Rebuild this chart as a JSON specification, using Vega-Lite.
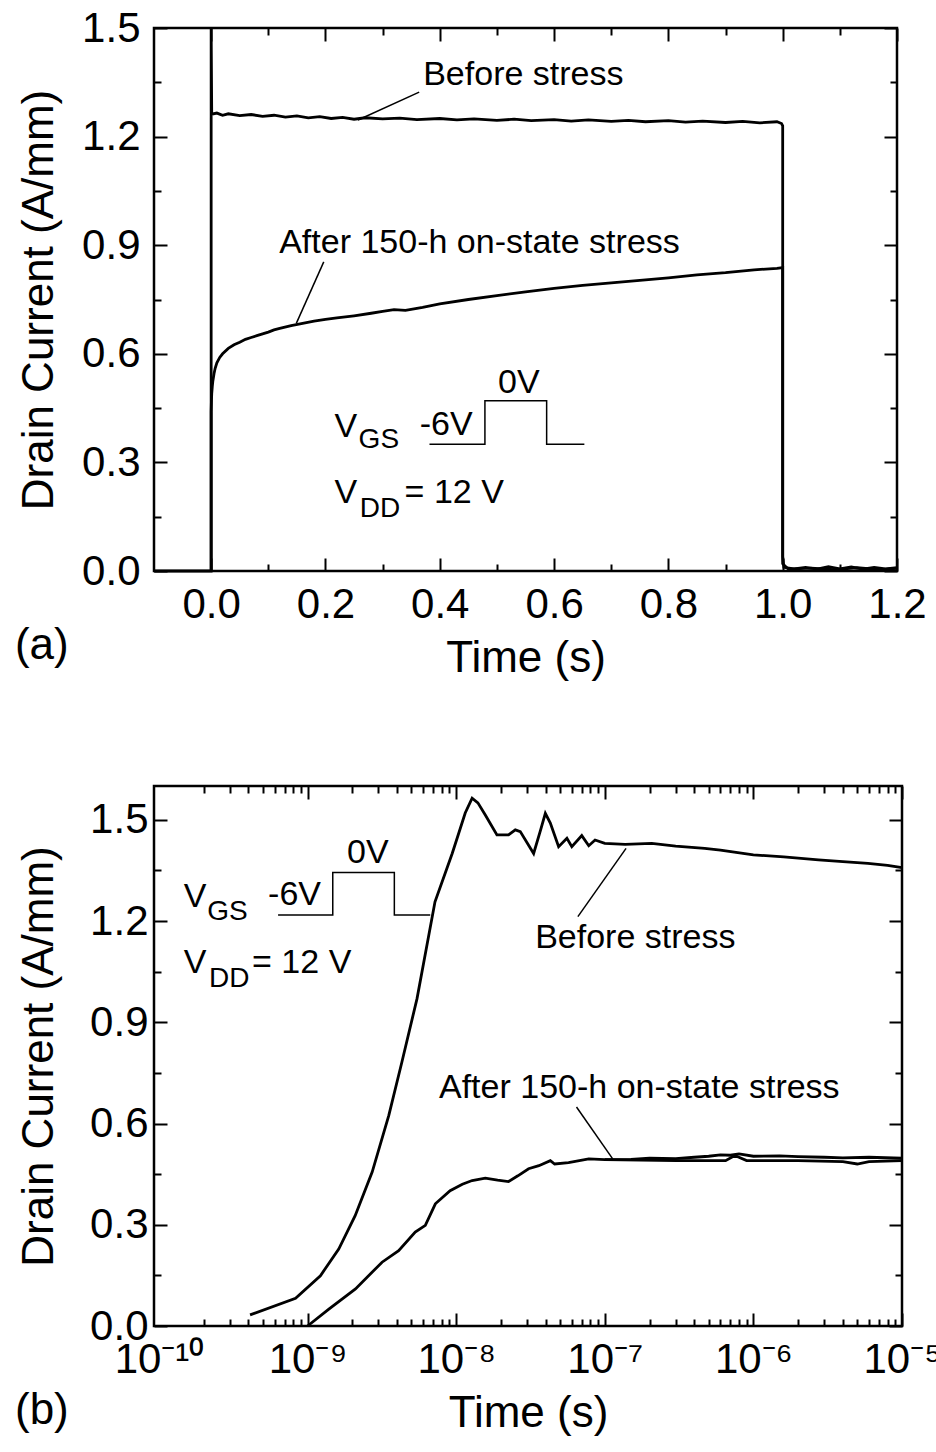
{
  "$schema": "https://vega.github.io/schema/vega-lite/v6.json",
  "background": "white",
  "padding": {"left": 13, "top": 5, "right": 0, "bottom": 0},
  "config": {
    "view": {"stroke": "black", "strokeWidth": 2.5},
    "axis": {"grid": false, "domain": false, "ticks": true, "zindex": 2, "tickColor": "black", "tickWidth": 2, "tickOpacity": 1, "labelColor": "black", "titleColor": "black", "labelFont": "Liberation Sans", "titleFont": "Liberation Sans", "labelFontSize": 42, "titleFontSize": 44, "titleFontWeight": "normal", "labelFlush": false, "labelBound": false}
  },
  "datasets": {
    "aTraces": [
      {"s": "before", "t": -0.1, "i": 0}, {"s": "before", "t": 0, "i": 0}, {"s": "before", "t": 0, "i": 1.5},
      {"s": "before", "t": 0.001, "i": 1.262}, {"s": "before", "t": 0.01, "i": 1.265}, {"s": "before", "t": 0.02, "i": 1.259},
      {"s": "before", "t": 0.03, "i": 1.263}, {"s": "before", "t": 0.05, "i": 1.258}, {"s": "before", "t": 0.07, "i": 1.261},
      {"s": "before", "t": 0.09, "i": 1.256}, {"s": "before", "t": 0.11, "i": 1.259}, {"s": "before", "t": 0.13, "i": 1.254},
      {"s": "before", "t": 0.15, "i": 1.257}, {"s": "before", "t": 0.17, "i": 1.252}, {"s": "before", "t": 0.19, "i": 1.255},
      {"s": "before", "t": 0.21, "i": 1.25}, {"s": "before", "t": 0.23, "i": 1.253}, {"s": "before", "t": 0.25, "i": 1.248},
      {"s": "before", "t": 0.27, "i": 1.252}, {"s": "before", "t": 0.3, "i": 1.249}, {"s": "before", "t": 0.33, "i": 1.251},
      {"s": "before", "t": 0.36, "i": 1.247}, {"s": "before", "t": 0.4, "i": 1.25}, {"s": "before", "t": 0.43, "i": 1.246},
      {"s": "before", "t": 0.46, "i": 1.249}, {"s": "before", "t": 0.5, "i": 1.245}, {"s": "before", "t": 0.53, "i": 1.248},
      {"s": "before", "t": 0.56, "i": 1.244}, {"s": "before", "t": 0.6, "i": 1.247}, {"s": "before", "t": 0.63, "i": 1.243},
      {"s": "before", "t": 0.66, "i": 1.246}, {"s": "before", "t": 0.7, "i": 1.242}, {"s": "before", "t": 0.73, "i": 1.245},
      {"s": "before", "t": 0.76, "i": 1.241}, {"s": "before", "t": 0.8, "i": 1.244}, {"s": "before", "t": 0.83, "i": 1.24},
      {"s": "before", "t": 0.86, "i": 1.243}, {"s": "before", "t": 0.9, "i": 1.239}, {"s": "before", "t": 0.93, "i": 1.242},
      {"s": "before", "t": 0.96, "i": 1.238}, {"s": "before", "t": 0.99, "i": 1.241}, {"s": "before", "t": 0.998, "i": 1.236},
      {"s": "before", "t": 1.0, "i": 1.23}, {"s": "before", "t": 1.0, "i": 0.04}, {"s": "before", "t": 1.002, "i": 0.01},
      {"s": "before", "t": 1.02, "i": 0.006}, {"s": "before", "t": 1.04, "i": 0.01}, {"s": "before", "t": 1.06, "i": 0.005},
      {"s": "before", "t": 1.08, "i": 0.012}, {"s": "before", "t": 1.1, "i": 0.006}, {"s": "before", "t": 1.12, "i": 0.011},
      {"s": "before", "t": 1.14, "i": 0.005}, {"s": "before", "t": 1.16, "i": 0.01}, {"s": "before", "t": 1.18, "i": 0.006},
      {"s": "before", "t": 1.2, "i": 0.009},
      {"s": "after", "t": 0, "i": 0}, {"s": "after", "t": 0, "i": 0.44}, {"s": "after", "t": 0.0005, "i": 0.47},
      {"s": "after", "t": 0.001, "i": 0.49}, {"s": "after", "t": 0.002, "i": 0.51}, {"s": "after", "t": 0.003, "i": 0.525},
      {"s": "after", "t": 0.005, "i": 0.545}, {"s": "after", "t": 0.007, "i": 0.56}, {"s": "after", "t": 0.01, "i": 0.575},
      {"s": "after", "t": 0.015, "i": 0.59}, {"s": "after", "t": 0.02, "i": 0.6}, {"s": "after", "t": 0.03, "i": 0.615},
      {"s": "after", "t": 0.04, "i": 0.625}, {"s": "after", "t": 0.05, "i": 0.632}, {"s": "after", "t": 0.06, "i": 0.64},
      {"s": "after", "t": 0.07, "i": 0.645}, {"s": "after", "t": 0.08, "i": 0.65}, {"s": "after", "t": 0.09, "i": 0.655},
      {"s": "after", "t": 0.1, "i": 0.66}, {"s": "after", "t": 0.11, "i": 0.666}, {"s": "after", "t": 0.12, "i": 0.67},
      {"s": "after", "t": 0.14, "i": 0.678}, {"s": "after", "t": 0.16, "i": 0.684}, {"s": "after", "t": 0.18, "i": 0.69},
      {"s": "after", "t": 0.2, "i": 0.695}, {"s": "after", "t": 0.22, "i": 0.699}, {"s": "after", "t": 0.25, "i": 0.705},
      {"s": "after", "t": 0.28, "i": 0.712}, {"s": "after", "t": 0.3, "i": 0.717}, {"s": "after", "t": 0.32, "i": 0.722},
      {"s": "after", "t": 0.34, "i": 0.72}, {"s": "after", "t": 0.37, "i": 0.728}, {"s": "after", "t": 0.4, "i": 0.738},
      {"s": "after", "t": 0.45, "i": 0.75}, {"s": "after", "t": 0.5, "i": 0.761}, {"s": "after", "t": 0.55, "i": 0.771},
      {"s": "after", "t": 0.6, "i": 0.781}, {"s": "after", "t": 0.65, "i": 0.789}, {"s": "after", "t": 0.7, "i": 0.796},
      {"s": "after", "t": 0.75, "i": 0.803}, {"s": "after", "t": 0.8, "i": 0.81}, {"s": "after", "t": 0.85, "i": 0.818},
      {"s": "after", "t": 0.9, "i": 0.824}, {"s": "after", "t": 0.95, "i": 0.832}, {"s": "after", "t": 0.99, "i": 0.836},
      {"s": "after", "t": 1.0, "i": 0.838}, {"s": "after", "t": 1.0, "i": 0.02}, {"s": "after", "t": 1.01, "i": 0.005},
      {"s": "after", "t": 1.05, "i": 0.008}, {"s": "after", "t": 1.09, "i": 0.004}, {"s": "after", "t": 1.13, "i": 0.009},
      {"s": "after", "t": 1.17, "i": 0.004}, {"s": "after", "t": 1.2, "i": 0.007}
    ],
    "aLines": [
      {"g": "lb", "x": 0.364, "y": 1.323}, {"g": "lb", "x": 0.257, "y": 1.246},
      {"g": "la", "x": 0.197, "y": 0.854}, {"g": "la", "x": 0.149, "y": 0.684},
      {"g": "p", "x": 0.382, "y": 0.35}, {"g": "p", "x": 0.479, "y": 0.35}, {"g": "p", "x": 0.479, "y": 0.47},
      {"g": "p", "x": 0.587, "y": 0.47}, {"g": "p", "x": 0.587, "y": 0.35}, {"g": "p", "x": 0.653, "y": 0.35}
    ],
    "aText": [
      {"x": 0.371, "y": 1.3425, "label": "Before stress"},
      {"x": 0.119, "y": 0.878, "label": "After 150-h on-state stress"},
      {"x": 0.216, "y": 0.371, "label": "V"},
      {"x": 0.365, "y": 0.3757, "label": "-6V"},
      {"x": 0.502, "y": 0.4926, "label": "0V"},
      {"x": 0.216, "y": 0.187, "label": "V"},
      {"x": 0.3385, "y": 0.187, "label": "= 12 V"}
    ],
    "aSub": [
      {"x": 0.258, "y": 0.339, "label": "GS"},
      {"x": 0.26, "y": 0.15, "label": "DD"}
    ],
    "aTag": [{"x": -0.3434, "y": -0.243, "label": "(a)"}],
    "bTraces": [
      {"s": "before", "t": 4.1e-10, "i": 0.033}, {"s": "before", "t": 8.3e-10, "i": 0.082}, {"s": "before", "t": 1.22e-9, "i": 0.149},
      {"s": "before", "t": 1.62e-9, "i": 0.228}, {"s": "before", "t": 2.09e-9, "i": 0.327}, {"s": "before", "t": 2.72e-9, "i": 0.456},
      {"s": "before", "t": 3.52e-9, "i": 0.624}, {"s": "before", "t": 4.3e-9, "i": 0.78}, {"s": "before", "t": 5.45e-9, "i": 0.97},
      {"s": "before", "t": 7.2e-9, "i": 1.257}, {"s": "before", "t": 9.4e-9, "i": 1.4}, {"s": "before", "t": 1.04e-8, "i": 1.46},
      {"s": "before", "t": 1.15e-8, "i": 1.52}, {"s": "before", "t": 1.28e-8, "i": 1.564}, {"s": "before", "t": 1.4e-8, "i": 1.55},
      {"s": "before", "t": 1.57e-8, "i": 1.514}, {"s": "before", "t": 1.88e-8, "i": 1.455}, {"s": "before", "t": 2.25e-8, "i": 1.455},
      {"s": "before", "t": 2.5e-8, "i": 1.47}, {"s": "before", "t": 2.7e-8, "i": 1.465}, {"s": "before", "t": 3.32e-8, "i": 1.4},
      {"s": "before", "t": 3.7e-8, "i": 1.47}, {"s": "before", "t": 3.98e-8, "i": 1.519}, {"s": "before", "t": 4.3e-8, "i": 1.49},
      {"s": "before", "t": 4.89e-8, "i": 1.42}, {"s": "before", "t": 5.56e-8, "i": 1.445}, {"s": "before", "t": 6.0e-8, "i": 1.42},
      {"s": "before", "t": 7.0e-8, "i": 1.453}, {"s": "before", "t": 7.8e-8, "i": 1.423}, {"s": "before", "t": 8.6e-8, "i": 1.44},
      {"s": "before", "t": 1.0e-7, "i": 1.43}, {"s": "before", "t": 1.37e-7, "i": 1.427}, {"s": "before", "t": 2.07e-7, "i": 1.43},
      {"s": "before", "t": 3e-7, "i": 1.422}, {"s": "before", "t": 4.7e-7, "i": 1.415}, {"s": "before", "t": 6e-7, "i": 1.41},
      {"s": "before", "t": 1e-6, "i": 1.396}, {"s": "before", "t": 1.6e-6, "i": 1.39}, {"s": "before", "t": 2.74e-6, "i": 1.381},
      {"s": "before", "t": 4e-6, "i": 1.376}, {"s": "before", "t": 5.9e-6, "i": 1.371}, {"s": "before", "t": 8e-6, "i": 1.365},
      {"s": "before", "t": 1e-5, "i": 1.358},
      {"s": "after", "t": 1.0e-9, "i": 0.0}, {"s": "after", "t": 1.39e-9, "i": 0.05}, {"s": "after", "t": 2.1e-9, "i": 0.11},
      {"s": "after", "t": 3.17e-9, "i": 0.189}, {"s": "after", "t": 4.1e-9, "i": 0.223}, {"s": "after", "t": 5.3e-9, "i": 0.278},
      {"s": "after", "t": 6.2e-9, "i": 0.298}, {"s": "after", "t": 7.24e-9, "i": 0.362}, {"s": "after", "t": 9.1e-9, "i": 0.401},
      {"s": "after", "t": 1.1e-8, "i": 0.42}, {"s": "after", "t": 1.28e-8, "i": 0.431}, {"s": "after", "t": 1.57e-8, "i": 0.438},
      {"s": "after", "t": 1.9e-8, "i": 0.432}, {"s": "after", "t": 2.25e-8, "i": 0.428}, {"s": "after", "t": 2.6e-8, "i": 0.445},
      {"s": "after", "t": 3.07e-8, "i": 0.466}, {"s": "after", "t": 3.6e-8, "i": 0.475}, {"s": "after", "t": 4.3e-8, "i": 0.49},
      {"s": "after", "t": 4.6e-8, "i": 0.48}, {"s": "after", "t": 5.7e-8, "i": 0.484}, {"s": "after", "t": 7.8e-8, "i": 0.495},
      {"s": "after", "t": 1.0e-7, "i": 0.493}, {"s": "after", "t": 1.5e-7, "i": 0.494}, {"s": "after", "t": 2e-7, "i": 0.497},
      {"s": "after", "t": 3e-7, "i": 0.496}, {"s": "after", "t": 4e-7, "i": 0.5}, {"s": "after", "t": 5e-7, "i": 0.503},
      {"s": "after", "t": 6e-7, "i": 0.507}, {"s": "after", "t": 7e-7, "i": 0.506}, {"s": "after", "t": 8e-7, "i": 0.51},
      {"s": "after", "t": 1e-6, "i": 0.503}, {"s": "after", "t": 1.5e-6, "i": 0.504}, {"s": "after", "t": 2e-6, "i": 0.502},
      {"s": "after", "t": 3e-6, "i": 0.5}, {"s": "after", "t": 4e-6, "i": 0.498}, {"s": "after", "t": 6e-6, "i": 0.5},
      {"s": "after", "t": 1e-5, "i": 0.497},
      {"s": "after2", "t": 1.0e-7, "i": 0.493}, {"s": "after2", "t": 3e-7, "i": 0.49}, {"s": "after2", "t": 5e-7, "i": 0.49},
      {"s": "after2", "t": 6.5e-7, "i": 0.49}, {"s": "after2", "t": 7.5e-7, "i": 0.505}, {"s": "after2", "t": 9e-7, "i": 0.49},
      {"s": "after2", "t": 2e-6, "i": 0.49}, {"s": "after2", "t": 4e-6, "i": 0.487}, {"s": "after2", "t": 5e-6, "i": 0.48},
      {"s": "after2", "t": 6e-6, "i": 0.487}, {"s": "after2", "t": 1e-5, "i": 0.49}
    ],
    "bLines": [
      {"g": "lb", "x": 6.59e-8, "y": 1.213}, {"g": "lb", "x": 1.39e-7, "y": 1.415},
      {"g": "la", "x": 6.45e-8, "y": 0.649}, {"g": "la", "x": 1.13e-7, "y": 0.495},
      {"g": "p", "x": 6.33e-10, "y": 1.2175}, {"g": "p", "x": 1.477e-9, "y": 1.2175}, {"g": "p", "x": 1.477e-9, "y": 1.344},
      {"g": "p", "x": 3.835e-9, "y": 1.344}, {"g": "p", "x": 3.835e-9, "y": 1.2175}, {"g": "p", "x": 6.69e-9, "y": 1.2175}
    ],
    "bText": [
      {"x": 3.4e-8, "y": 1.119, "label": "Before stress"},
      {"x": 7.66e-9, "y": 0.6745, "label": "After 150-h on-state stress"},
      {"x": 1.47e-10, "y": 1.2424, "label": "V"},
      {"x": 5.42e-10, "y": 1.247, "label": "-6V"},
      {"x": 1.844e-9, "y": 1.371, "label": "0V"},
      {"x": 1.47e-10, "y": 1.0445, "label": "V"},
      {"x": 4.23e-10, "y": 1.0445, "label": "= 12 V"}
    ],
    "bSub": [
      {"x": 2.11e-10, "y": 1.2027, "label": "GS"},
      {"x": 2.17e-10, "y": 1.005, "label": "DD"}
    ],
    "bTag": [{"x": 1.074e-11, "y": -0.29, "label": "(b)"}]
  },
  "columns": 1,
  "spacing": 101,
  "concat": [
    {
      "width": 743,
      "height": 543,
      "resolve": {"axis": {"x": "independent", "y": "independent"}},
      "layer": [
        {
          "data": {"name": "aTraces"},
          "mark": {"type": "line", "color": "black", "strokeWidth": 2.8},
          "encoding": {
            "x": {"field": "t", "type": "quantitative", "scale": {"domain": [-0.1, 1.2], "nice": false, "zero": false},
              "axis": {"orient": "bottom", "values": [0, 0.2, 0.4, 0.6, 0.8, 1.0, 1.2], "format": ".1f", "offset": -13, "tickSize": 13, "labelPadding": 13, "title": "Time (s)", "titlePadding": 11}},
            "y": {"field": "i", "type": "quantitative", "scale": {"domain": [0, 1.5], "nice": false, "zero": false},
              "axis": {"orient": "left", "values": [0, 0.3, 0.6, 0.9, 1.2, 1.5], "format": ".1f", "offset": -13, "tickSize": 13, "labelPadding": 14, "title": "Drain Current (A/mm)", "titlePadding": 20}},
            "detail": {"field": "s"},
            "order": {"value": null}
          }
        },
        {
          "data": {"name": "aLines"},
          "mark": {"type": "line", "color": "black", "strokeWidth": 1.5},
          "encoding": {
            "x": {"field": "x", "type": "quantitative", "scale": {"domain": [-0.1, 1.2], "nice": false, "zero": false},
              "axis": {"orient": "top", "values": [0, 0.2, 0.4, 0.6, 0.8, 1.0, 1.2], "labels": false, "offset": -13, "tickSize": 13, "title": null}},
            "y": {"field": "y", "type": "quantitative", "scale": {"domain": [0, 1.5], "nice": false, "zero": false},
              "axis": {"orient": "right", "values": [0, 0.3, 0.6, 0.9, 1.2, 1.5], "labels": false, "offset": -13, "tickSize": 13, "title": null}},
            "detail": {"field": "g"},
            "order": {"value": null}
          }
        },
        {
          "data": {"name": "aText"},
          "mark": {"type": "text", "color": "black", "font": "Liberation Sans", "fontSize": 34, "align": "left", "baseline": "alphabetic"},
          "encoding": {
            "x": {"field": "x", "type": "quantitative", "scale": {"domain": [-0.1, 1.2], "nice": false, "zero": false},
              "axis": {"orient": "bottom", "values": [0.1, 0.3, 0.5, 0.7, 0.9, 1.1], "labels": false, "offset": -7, "tickSize": 7, "title": null}},
            "y": {"field": "y", "type": "quantitative", "scale": {"domain": [0, 1.5], "nice": false, "zero": false},
              "axis": {"orient": "left", "values": [0.15, 0.45, 0.75, 1.05, 1.35], "labels": false, "offset": -7, "tickSize": 7, "title": null}},
            "text": {"field": "label"}
          }
        },
        {
          "data": {"name": "aSub"},
          "mark": {"type": "text", "color": "black", "font": "Liberation Sans", "fontSize": 28, "align": "left", "baseline": "alphabetic"},
          "encoding": {
            "x": {"field": "x", "type": "quantitative", "scale": {"domain": [-0.1, 1.2], "nice": false, "zero": false},
              "axis": {"orient": "top", "values": [0.1, 0.3, 0.5, 0.7, 0.9, 1.1], "labels": false, "offset": -7, "tickSize": 7, "title": null}},
            "y": {"field": "y", "type": "quantitative", "scale": {"domain": [0, 1.5], "nice": false, "zero": false},
              "axis": {"orient": "right", "values": [0.15, 0.45, 0.75, 1.05, 1.35], "labels": false, "offset": -7, "tickSize": 7, "title": null}},
            "text": {"field": "label"}
          }
        },
        {
          "data": {"name": "aTag"},
          "mark": {"type": "text", "color": "black", "font": "Liberation Sans", "fontSize": 44, "align": "left", "baseline": "alphabetic"},
          "encoding": {
            "x": {"field": "x", "type": "quantitative", "scale": {"domain": [-0.1, 1.2], "nice": false, "zero": false}, "axis": null},
            "y": {"field": "y", "type": "quantitative", "scale": {"domain": [0, 1.5], "nice": false, "zero": false}, "axis": null},
            "text": {"field": "label"}
          }
        }
      ]
    },
    {
      "width": 748,
      "height": 540,
      "resolve": {"axis": {"x": "independent", "y": "independent"}},
      "layer": [
        {
          "data": {"name": "bTraces"},
          "mark": {"type": "line", "color": "black", "strokeWidth": 2.8},
          "encoding": {
            "x": {"field": "t", "type": "quantitative", "scale": {"type": "log", "domain": [9.256e-11, 1e-5], "nice": false},
              "axis": {"orient": "bottom", "values": [1e-10, 1e-9, 1e-8, 1e-7, 1e-6, 1e-5], "labelExpr": "datum.value < 3e-10 ? '10⁻¹⁰' : datum.value < 3e-9 ? '10⁻⁹' : datum.value < 3e-8 ? '10⁻⁸' : datum.value < 3e-7 ? '10⁻⁷' : datum.value < 3e-6 ? '10⁻⁶' : '10⁻⁵'", "tickOpacity": {"condition": {"test": "datum.value < 2e-10", "value": 0}, "value": 1}, "offset": -13, "tickSize": 13, "labelPadding": 13, "title": "Time (s)", "titlePadding": 11}},
            "y": {"field": "i", "type": "quantitative", "scale": {"domain": [0, 1.6], "nice": false, "zero": false},
              "axis": {"orient": "left", "values": [0, 0.3, 0.6, 0.9, 1.2, 1.5], "format": ".1f", "offset": -13, "tickSize": 13, "labelPadding": 6, "title": "Drain Current (A/mm)", "titlePadding": 28}},
            "detail": {"field": "s"},
            "order": {"value": null}
          }
        },
        {
          "data": {"name": "bLines"},
          "mark": {"type": "line", "color": "black", "strokeWidth": 1.5},
          "encoding": {
            "x": {"field": "x", "type": "quantitative", "scale": {"type": "log", "domain": [9.256e-11, 1e-5], "nice": false},
              "axis": {"orient": "top", "values": [1e-9, 1e-8, 1e-7, 1e-6, 1e-5], "labels": false, "offset": -13, "tickSize": 13, "title": null}},
            "y": {"field": "y", "type": "quantitative", "scale": {"domain": [0, 1.6], "nice": false, "zero": false},
              "axis": {"orient": "right", "values": [0, 0.3, 0.6, 0.9, 1.2, 1.5], "labels": false, "offset": -13, "tickSize": 13, "title": null}},
            "detail": {"field": "g"},
            "order": {"value": null}
          }
        },
        {
          "data": {"name": "bText"},
          "mark": {"type": "text", "color": "black", "font": "Liberation Sans", "fontSize": 34, "align": "left", "baseline": "alphabetic"},
          "encoding": {
            "x": {"field": "x", "type": "quantitative", "scale": {"type": "log", "domain": [9.256e-11, 1e-5], "nice": false},
              "axis": {"orient": "bottom", "values": [2e-10, 3e-10, 4e-10, 5e-10, 6e-10, 7e-10, 8e-10, 9e-10, 2e-9, 3e-9, 4e-9, 5e-9, 6e-9, 7e-9, 8e-9, 9e-9, 2e-8, 3e-8, 4e-8, 5e-8, 6e-8, 7e-8, 8e-8, 9e-8, 2e-7, 3e-7, 4e-7, 5e-7, 6e-7, 7e-7, 8e-7, 9e-7, 2e-6, 3e-6, 4e-6, 5e-6, 6e-6, 7e-6, 8e-6, 9e-6], "labels": false, "offset": -7, "tickSize": 7, "title": null}},
            "y": {"field": "y", "type": "quantitative", "scale": {"domain": [0, 1.6], "nice": false, "zero": false},
              "axis": {"orient": "left", "values": [0.15, 0.45, 0.75, 1.05, 1.35], "labels": false, "offset": -7, "tickSize": 7, "title": null}},
            "text": {"field": "label"}
          }
        },
        {
          "data": {"name": "bSub"},
          "mark": {"type": "text", "color": "black", "font": "Liberation Sans", "fontSize": 28, "align": "left", "baseline": "alphabetic"},
          "encoding": {
            "x": {"field": "x", "type": "quantitative", "scale": {"type": "log", "domain": [9.256e-11, 1e-5], "nice": false},
              "axis": {"orient": "top", "values": [2e-10, 3e-10, 4e-10, 5e-10, 6e-10, 7e-10, 8e-10, 9e-10, 2e-9, 3e-9, 4e-9, 5e-9, 6e-9, 7e-9, 8e-9, 9e-9, 2e-8, 3e-8, 4e-8, 5e-8, 6e-8, 7e-8, 8e-8, 9e-8, 2e-7, 3e-7, 4e-7, 5e-7, 6e-7, 7e-7, 8e-7, 9e-7, 2e-6, 3e-6, 4e-6, 5e-6, 6e-6, 7e-6, 8e-6, 9e-6], "labels": false, "offset": -7, "tickSize": 7, "title": null}},
            "y": {"field": "y", "type": "quantitative", "scale": {"domain": [0, 1.6], "nice": false, "zero": false},
              "axis": {"orient": "right", "values": [0.15, 0.45, 0.75, 1.05, 1.35], "labels": false, "offset": -7, "tickSize": 7, "title": null}},
            "text": {"field": "label"}
          }
        },
        {
          "data": {"name": "bTag"},
          "mark": {"type": "text", "color": "black", "font": "Liberation Sans", "fontSize": 44, "align": "left", "baseline": "alphabetic"},
          "encoding": {
            "x": {"field": "x", "type": "quantitative", "scale": {"type": "log", "domain": [9.256e-11, 1e-5], "nice": false}, "axis": null},
            "y": {"field": "y", "type": "quantitative", "scale": {"domain": [0, 1.6], "nice": false, "zero": false}, "axis": null},
            "text": {"field": "label"}
          }
        }
      ]
    }
  ]
}
